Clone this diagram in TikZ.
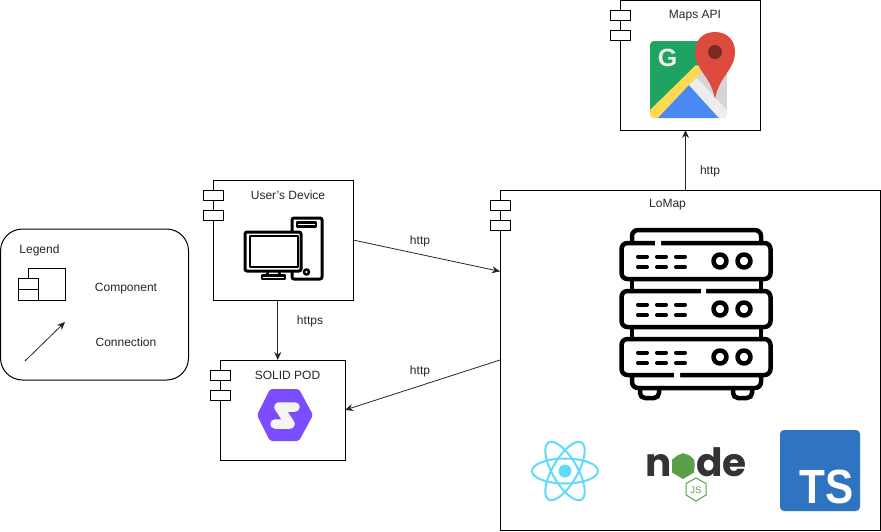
\documentclass[tikz,border=0pt]{standalone}
\usepackage{fontspec}
\setmainfont{Liberation Sans}
\newfontfamily\logofont{Poppins}
\usepackage{xcolor}
\definecolor{gm_green}{HTML}{1EA362}
\definecolor{gm_yellow}{HTML}{FFD94F}
\definecolor{gm_blue}{HTML}{4A89F3}
\definecolor{gm_grey}{HTML}{D5D5D5}
\definecolor{gm_red}{HTML}{DD4B3E}
\definecolor{gm_dot}{HTML}{7D2A20}
\definecolor{solid_pur}{HTML}{7C4DFF}
\definecolor{react_cy}{HTML}{61DAFB}
\definecolor{node_grn}{HTML}{5B9F4A}
\definecolor{node_blk}{HTML}{333333}
\definecolor{ts_blue}{HTML}{2F74C0}
\usepackage{tikz}
\usetikzlibrary{calc}
\usetikzlibrary{positioning}
\usetikzlibrary{arrows.meta}
\tikzstyle{comp_box} = [rectangle, draw=black, fill=white, line width=1pt, inner sep=0pt, outer sep=0pt]
\tikzstyle{comp_tab} = [rectangle, draw=black, fill=white, line width=1pt, minimum width=20pt, minimum height=10pt, inner sep=0pt, outer sep=0pt]
\tikzstyle{txt_lbl} = [inner sep=0pt, outer sep=0pt, text=black!85, font=\fontsize{12}{14}\selectfont]
\tikzstyle{conn_arr} = [line width=.8pt,-{Stealth[length=8pt,width=7pt]},black!85]
\tikzstyle{icon_line} = [draw=black, line cap=round, line join=round]

\begin{document}
\begin{tikzpicture}[x=1pt,y=-1pt]
    \useasboundingbox (0,0) rectangle (881,531);
    % boxes
    \node (legend)[comp_box,rounded corners=22pt,minimum width=188pt,minimum height=151pt] at (94.5,304.5) {};
    \node (maps)[comp_box,minimum width=140pt,minimum height=130pt] at (690,65) {};
    \node (dev)[comp_box,minimum width=140pt,minimum height=120pt] at (283,240) {};
    \node (pod)[comp_box,minimum width=125pt,minimum height=100pt] at (282.5,410) {};
    \node (lomap)[comp_box,minimum width=380pt,minimum height=340pt] at (690,360) {};
    \node (leg_box)[comp_box,minimum width=37pt,minimum height=32pt] at (46.5,284) {};
    % tabs
    \node (maps_t1)[comp_tab] at ($(maps.north west)+(0,15)$) {};
    \node (maps_t2)[comp_tab,below=10pt of maps_t1] {};
    \node (dev_t1)[comp_tab] at ($(dev.north west)+(0,15)$) {};
    \node (dev_t2)[comp_tab,below=10pt of dev_t1] {};
    \node (pod_t1)[comp_tab] at ($(pod.north west)+(0,15)$) {};
    \node (pod_t2)[comp_tab,below=10pt of pod_t1] {};
    \node (lomap_t1)[comp_tab] at ($(lomap.north west)+(0,15)$) {};
    \node (lomap_t2)[comp_tab,below=10pt of lomap_t1] {};
    \node (leg_t1)[comp_tab,minimum height=11pt] at (28,283.5) {};
    \node (leg_t2)[comp_tab,minimum height=11pt,below=0pt of leg_t1] {};
    % labels
    \node (maps_lbl)[txt_lbl] at (695,15.5) {Maps API};
    \node (dev_lbl)[txt_lbl] at (288,195) {User's Device};
    \node (pod_lbl)[txt_lbl] at (287.5,375) {SOLID POD};
    \node (lomap_lbl)[txt_lbl] at (667.5,205) {LoMap};
    \node (leg_lbl)[txt_lbl] at (39.5,250) {Legend};
    \node (leg_comp)[txt_lbl] at (126,289) {Component};
    \node (leg_conn)[txt_lbl] at (126,342) {Connection};
    \node (http_a)[txt_lbl] at (420,241.5) {http};
    \node (https_a)[txt_lbl] at (310,321) {https};
    \node (http_b)[txt_lbl] at (420,371) {http};
    \node (http_c)[txt_lbl] at (710,171.5) {http};
    % connectors
    \coordinate (leg_a) at (25,361);
    \coordinate (leg_b) at (65,322);
    \coordinate (lomap_up) at ($(lomap.north)+(-4.5,0)$);
    \draw [conn_arr] (leg_a) -- (leg_b);
    \draw [conn_arr] (dev.east) -- (lomap.155.4);
    \draw [conn_arr] (lomap.west) -- (pod.east);
    \draw [conn_arr] (dev.265) -- (dev.265 |- pod.north);
    \draw [conn_arr] (lomap_up) -- (lomap_up |- maps.south);
    % maps icon
    \begin{scope}
        \clip[rounded corners=4pt] (650,41) rectangle (727,118);
        \fill[gm_grey] (650,41) rectangle (727,118);
        \fill[gm_green] (650,41) -- (700,41) -- (700,63) -- (650,110) -- cycle;
        \fill[gm_yellow] (650,110) -- (696,65) -- (702,71) -- (658,118) -- (650,118) -- cycle;
        \fill[gm_blue] (658,118) -- (689,85) -- (719,118) -- cycle;
        \fill[white!93!black] (689,85) -- (697,78) -- (727,110) -- (727,118) -- (719,118) -- cycle;
    \end{scope}
    \node (gm_g)[inner sep=0pt,text=white!93!black,font=\fontsize{25}{25}\selectfont\bfseries] at (667.5,57.5) {G};
    \fill[gm_red] (695,52) .. controls (695,39) and (704,32) .. (715,32) .. controls (727,32) and (735,40) .. (735,52) .. controls (735,70) and (719,76) .. (715,99) .. controls (711,76) and (695,70) .. (695,52) -- cycle;
    \fill[gm_dot] (715,52) circle (7);
    % device icon
    \draw[icon_line,line width=3pt,fill=white,rounded corners=2pt] (292,218) rectangle (322,279);
    \draw[icon_line,line width=2.5pt] (297,222.5) rectangle (316,226.5);
    \draw[icon_line,line width=2.5pt] (306.5,272) circle (2.5);
    \draw[icon_line,line width=3pt,fill=white,rounded corners=2pt] (245,232) rectangle (301,271);
    \draw[icon_line,line width=2.5pt] (250,236) rectangle (298,267);
    \fill[white] (262,273) rectangle (290,281);
    \draw[icon_line,line width=2.5pt] (268,272) -- (267,275) (279,272) -- (280,275);
    \draw[icon_line,line width=2.5pt] (262,275.5) rectangle (285,279);
    % solid icon
    \fill[solid_pur,rounded corners=2pt] (257,415) -- (270,389) -- (299,389) -- (313,415) -- (299,441) -- (270,441) -- cycle;
    \draw[white!96!black,line width=9.5pt,line join=round,line cap=round] (295,407) -- (279,407) -- (290,424) -- (275,424);
    % server icon
    \foreach \uy in {243,291,339} {
        \draw[icon_line,line width=4.5pt,rounded corners=6pt,fill=white] (621.5,\uy) rectangle (770.5,\uy+36);
        \foreach \sx in {637,656,675}
            \draw[icon_line,line width=4pt] (\sx+1,\uy+13.5) -- (\sx+10,\uy+13.5) (\sx+1,\uy+24) -- (\sx+10,\uy+24);
        \foreach \cx in {720,744}
            \draw[icon_line,line width=4.5pt] (\cx,\uy+18) circle (6.5);
    }
    \draw[icon_line,line width=4.5pt,rounded corners=6pt] (632,243) -- (632,230) -- (761,230) -- (761,243);
    \draw[icon_line,line width=4.5pt] (632,279) -- (632,291) (761,279) -- (761,291) (632,327) -- (632,339) (761,327) -- (761,339);
    \draw[icon_line,line width=4.5pt,rounded corners=6pt] (632,375) -- (632,388) -- (761,388) -- (761,375);
    \draw[icon_line,line width=4.5pt,rounded corners=5pt] (640,388) -- (640,398) -- (659,398) -- (659,388);
    \draw[icon_line,line width=4.5pt,rounded corners=5pt] (733,388) -- (733,398) -- (752,398) -- (752,388);
    \fill[white] (655,240) rectangle (661,246) (701,288) rectangle (706,294) (674,372) rectangle (680,378);
    % react icon
    \foreach \ang in {0,60,120}
        \draw[react_cy,line width=2pt,rotate around={\ang:(565,471)}] (565,471) ellipse (33 and 12.5);
    \fill[react_cy] (565,471) circle (6.5);
    % node icon
    \fill[node_grn] (683,453) -- (694,459.5) -- (694,472.5) -- (683,479) -- (672,472.5) -- (672,459.5) -- cycle;
    \node (node_txt)[inner sep=0pt,anchor=base,text=node_blk,font=\logofont\bfseries\fontsize{39}{39}\selectfont] at (696,476) {n\textcolor{node_grn}{o}de};
    \draw[node_grn,line width=1pt] (696,478) -- (706,483.5) -- (706,495) -- (696,501) -- (686,495) -- (686,483.5) -- cycle;
    \node (node_js)[inner sep=0pt,text=node_grn,font=\fontsize{9.5}{9.5}\selectfont] at (696,490.5) {JS};
    % ts icon
    \fill[ts_blue,rounded corners=4pt] (780,430) rectangle (860,511);
    \node (ts_txt)[inner sep=0pt,anchor=base east,text=white,xscale=.88,transform shape,font=\fontsize{48}{48}\selectfont\bfseries] at (854,503) {TS};
\end{tikzpicture}
\end{document}
